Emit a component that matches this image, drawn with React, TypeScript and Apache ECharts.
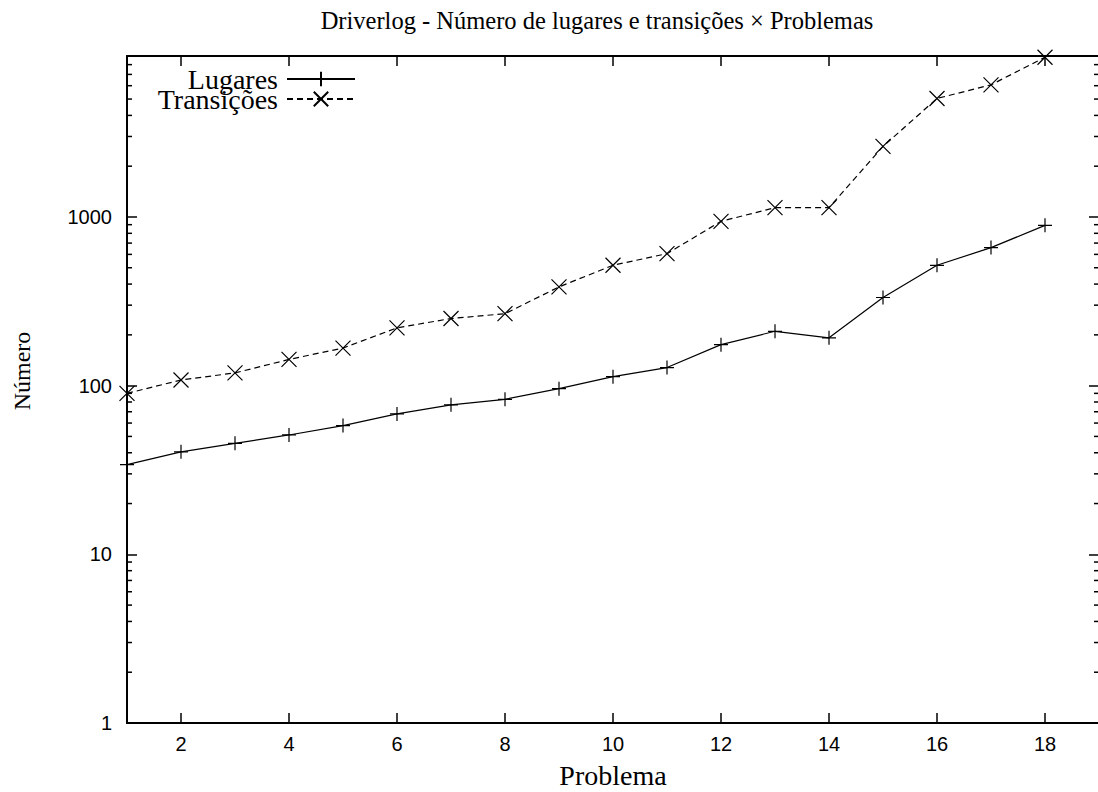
import { useEffect, useRef } from "react";
import * as echarts from "echarts";

// Problem indices on the x axis
const problems = [1, 2, 3, 4, 5, 6, 7, 8, 9, 10, 11, 12, 13, 14, 15, 16, 17, 18];
// Number of places (Lugares) per problem
const lugares = [34, 40.5, 45.5, 51, 58, 68, 77, 83, 96, 113, 128, 175, 210, 192, 333, 517, 658, 892];
// Number of transitions (Transições) per problem
const transicoes = [90, 108, 119, 143, 167, 220, 250, 267, 385, 517, 606, 942, 1135, 1135, 2620, 5040, 6070, 8850];

// Axis ticks
const xTicks = [2, 4, 6, 8, 10, 12, 14, 16, 18];
const yMinorTicks = [
  2, 3, 4, 5, 6, 7, 8, 9,
  20, 30, 40, 50, 60, 70, 80, 90,
  200, 300, 400, 500, 600, 700, 800, 900,
  2000, 3000, 4000, 5000, 6000, 7000, 8000,
];

const X_MIN = 1;
const X_MAX = 19;
const Y_MIN = 1;
const Y_MAX = 9000;

const TITLE = "Driverlog - Número de lugares e transições × Problemas";
const X_NAME = "Problema";
const Y_NAME = "Número";

const SERIF = '"Liberation Serif", "Times New Roman", serif';
const SANS = '"Liberation Sans", Arial, sans-serif';

const PLUS = "path://M5,0L5,10M0,5L10,5";
const CROSS = "path://M0,0L10,10M10,0L0,10";

export default function App() {
  const ref = useRef<HTMLDivElement>(null);

  useEffect(() => {
    if (!ref.current) return;
    const chart = echarts.init(ref.current, null, { renderer: "svg" });

    const axisLine = { show: true, lineStyle: { color: "#000", width: 2 } };
    const majorTick = { inside: true, length: 10, lineStyle: { color: "#000", width: 1.5 } };

    chart.setOption({
      animation: false,
      backgroundColor: "#fff",
      grid: {
        left: 127,
        top: 56,
        width: 972,
        height: 667,
        containLabel: false,
        outerBoundsMode: "none",
      },
      graphic: [
        {
          type: "text",
          x: 597,
          y: 20,
          style: {
            text: TITLE,
            font: `24.5px ${SERIF}`,
            fill: "#000",
            textAlign: "center",
            textVerticalAlign: "middle",
          },
        },
        {
          type: "text",
          x: 22,
          y: 371,
          rotation: Math.PI / 2,
          style: {
            text: Y_NAME,
            font: `24px ${SERIF}`,
            fill: "#000",
            textAlign: "center",
            textVerticalAlign: "middle",
          },
        },
      ],
      legend: {
        data: ["Lugares", "Transições"],
        orient: "vertical",
        align: "right",
        right: 742,
        top: 65,
        padding: 0,
        itemWidth: 68,
        itemHeight: 18,
        itemGap: -8,
        textStyle: {
          fontFamily: SERIF,
          fontSize: 28,
          color: "#000",
          padding: [0, 4, 0, 0],
        },
      },
      xAxis: [
        {
          type: "value",
          min: X_MIN,
          max: X_MAX,
          position: "bottom",
          name: X_NAME,
          nameLocation: "middle",
          nameGap: 38,
          nameTextStyle: { fontFamily: SERIF, fontSize: 28, color: "#000" },
          axisLine,
          axisTick: { ...majorTick, customValues: xTicks },
          axisLabel: {
            customValues: xTicks,
            fontFamily: SANS,
            fontSize: 20,
            color: "#000",
            margin: 11,
          },
          splitLine: { show: false },
        },
        {
          type: "value",
          min: X_MIN,
          max: X_MAX,
          position: "top",
          axisLine,
          axisTick: { ...majorTick, customValues: xTicks },
          axisLabel: { show: false },
          splitLine: { show: false },
        },
      ],
      yAxis: [
        {
          type: "log",
          logBase: 10,
          min: Y_MIN,
          max: Y_MAX,
          position: "left",
          axisLine,
          axisTick: majorTick,
          axisLabel: {
            fontFamily: SANS,
            fontSize: 20,
            color: "#000",
            margin: 15,
            showMaxLabel: false,
            formatter: (v: number) => String(Math.round(v)),
          },
          splitLine: { show: false },
        },
        {
          // right border sits just past the canvas edge; only its ticks show
          type: "log",
          logBase: 10,
          min: Y_MIN,
          max: Y_MAX,
          position: "right",
          axisLine: { show: false },
          axisTick: majorTick,
          axisLabel: { show: false },
          splitLine: { show: false },
        },
      ],
      series: [
        {
          name: "Lugares",
          type: "line",
          data: problems.map((p, i) => [p, lugares[i]]),
          symbol: PLUS,
          symbolSize: 14,
          clip: false,
          lineStyle: { color: "#000", width: 1.2, type: "solid" },
          itemStyle: { color: "#000", borderColor: "#000", borderWidth: 1.2 },
          z: 3,
        },
        {
          name: "Transições",
          type: "line",
          data: problems.map((p, i) => [p, transicoes[i]]),
          symbol: CROSS,
          symbolSize: 15,
          clip: false,
          lineStyle: { color: "#000", width: 1.2, type: [6, 4] },
          itemStyle: { color: "#000", borderColor: "#000", borderWidth: 1.2 },
          z: 3,
        },
        {
          // log-scale minor ticks on the left and right borders
          name: "minor",
          type: "custom",
          silent: true,
          data: yMinorTicks.map((v) => [X_MIN, v]),
          renderItem: (params: any, api: any) => {
            const p = api.coord([X_MIN, api.value(1)]);
            const cs = params.coordSys;
            const left = cs.x;
            const right = cs.x + cs.width;
            const style = { stroke: "#000", lineWidth: 1.5 };
            return {
              type: "group",
              children: [
                { type: "line", shape: { x1: left, y1: p[1], x2: left + 5, y2: p[1] }, style },
                { type: "line", shape: { x1: right - 5, y1: p[1], x2: right, y2: p[1] }, style },
              ],
            };
          },
          z: 2,
        },
      ],
    });

    return () => chart.dispose();
  }, []);

  return (
    <div
      ref={ref}
      style={{ position: "fixed", left: 0, top: 0, width: 1098, height: 792, background: "#fff" }}
    />
  );
}
